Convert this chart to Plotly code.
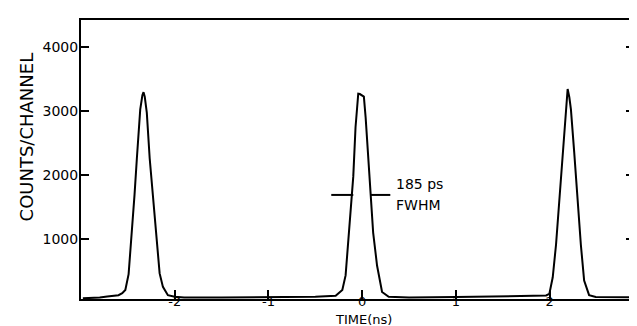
import plotly.graph_objects as go

# Curve: time (ns) and counts per channel
time_ns = [-2.98, -2.90, -2.80, -2.72, -2.65, -2.60, -2.56,
           -2.527, -2.492, -2.457, -2.429, -2.404, -2.368, -2.345, -2.333, -2.320,
           -2.298, -2.267, -2.232, -2.197, -2.161, -2.126, -2.073, -2.00, -1.90,
           -1.5, -1.0, -0.74, -0.5, -0.283,
           -0.212, -0.177, -0.141, -0.113, -0.095, -0.071, -0.042, -0.025, -0.011,
           0.018, 0.037, 0.071, 0.088, 0.117, 0.159, 0.212, 0.283,
           0.5, 1.0, 1.5, 1.715, 1.9, 1.962,
           1.997, 2.033, 2.068, 2.103, 2.139, 2.174, 2.192, 2.210, 2.227,
           2.262, 2.298, 2.333, 2.368, 2.421, 2.492, 2.7, 2.9]
counts = [70, 75, 85, 100, 110, 120, 150,
          200, 450, 1070, 1690, 2260, 3030, 3250, 3300, 3230,
          2980, 2260, 1690, 1070, 460, 250, 120, 95, 85,
          85, 90, 90, 95, 110,
          200, 430, 1050, 1660, 1980, 2750, 3275, 3270, 3260,
          3230, 2900, 2130, 1660, 1100, 580, 170, 95,
          85, 90, 100, 105, 110, 115,
          140, 400, 910, 1580, 2360, 3030, 3350, 3220, 3030,
          2360, 1580, 910, 350, 120, 90, 85, 85]

# Axis ticks
x_tickvals = [-2, -1, 0, 1, 2]
x_ticktext = ["-2", "-1", "0", "1", "2"]
y_tickvals = [1000, 2000, 3000, 4000]
y_ticktext = ["1000", "2000", "3000", "4000"]

# FWHM marker (level and arm ends, ns)
fwhm_level = 1690
fwhm_left_arm = [-0.33, -0.095]
fwhm_right_arm = [0.085, 0.30]
fwhm_label = "185 ps"
fwhm_label2 = "FWHM"
fwhm_label_x = 0.34

FONT = "DejaVu Sans"

fig = go.Figure()
fig.add_trace(go.Scatter(x=time_ns, y=counts, mode="lines",
                         line=dict(color="black", width=2),
                         showlegend=False, hoverinfo="skip"))
# FWHM arms
fig.add_trace(go.Scatter(x=fwhm_left_arm, y=[fwhm_level] * 2, mode="lines",
                         line=dict(color="black", width=2), showlegend=False))
fig.add_trace(go.Scatter(x=fwhm_right_arm, y=[fwhm_level] * 2, mode="lines",
                         line=dict(color="black", width=2), showlegend=False))

fig.add_annotation(x=fwhm_label_x, y=fwhm_level + 170, text=fwhm_label,
                   showarrow=False, xanchor="left", yanchor="middle",
                   font=dict(family=FONT, size=14, color="black"))
fig.add_annotation(x=fwhm_label_x, y=fwhm_level - 150, text=fwhm_label2,
                   showarrow=False, xanchor="left", yanchor="middle",
                   font=dict(family=FONT, size=14, color="black"))

# Axis titles
fig.add_annotation(xref="paper", yref="paper", x=0.51, y=-0.1036,
                   text="TIME(ns)", showarrow=False, xanchor="center", yanchor="bottom",
                   borderpad=0,
                   font=dict(family=FONT, size=13, color="black"))
fig.add_annotation(xref="paper", yref="paper", x=-0.099, y=0.58,
                   text="COUNTS/CHANNEL", showarrow=False, textangle=-90,
                   xanchor="center", yanchor="middle",
                   font=dict(family=FONT, size=18, color="black"))

fig.update_layout(
    width=637, height=326,
    margin=dict(l=73, r=9, t=12, b=35),
    paper_bgcolor="white", plot_bgcolor="white",
    showlegend=False,
    font=dict(family=FONT, size=14, color="black"),
)
fig.update_xaxes(range=[-3.0, 2.9], showgrid=False, zeroline=False,
                 showline=True, linecolor="black", linewidth=2, mirror=True,
                 ticks="inside", ticklen=9, tickwidth=1.5, tickcolor="black",
                 tickvals=x_tickvals, ticktext=x_ticktext, ticklabelstandoff=-11,
                 tickfont=dict(family=FONT, size=13, color="black"))
fig.update_yaxes(range=[60, 4430], showgrid=False, zeroline=False,
                 showline=True, linecolor="black", linewidth=2, mirror="ticks",
                 ticks="inside", ticklen=8, tickwidth=1.5, tickcolor="black",
                 tickvals=y_tickvals, ticktext=y_ticktext, ticklabelstandoff=-2,
                 tickfont=dict(family=FONT, size=14, color="black"))

fig.write_html("out.html")
